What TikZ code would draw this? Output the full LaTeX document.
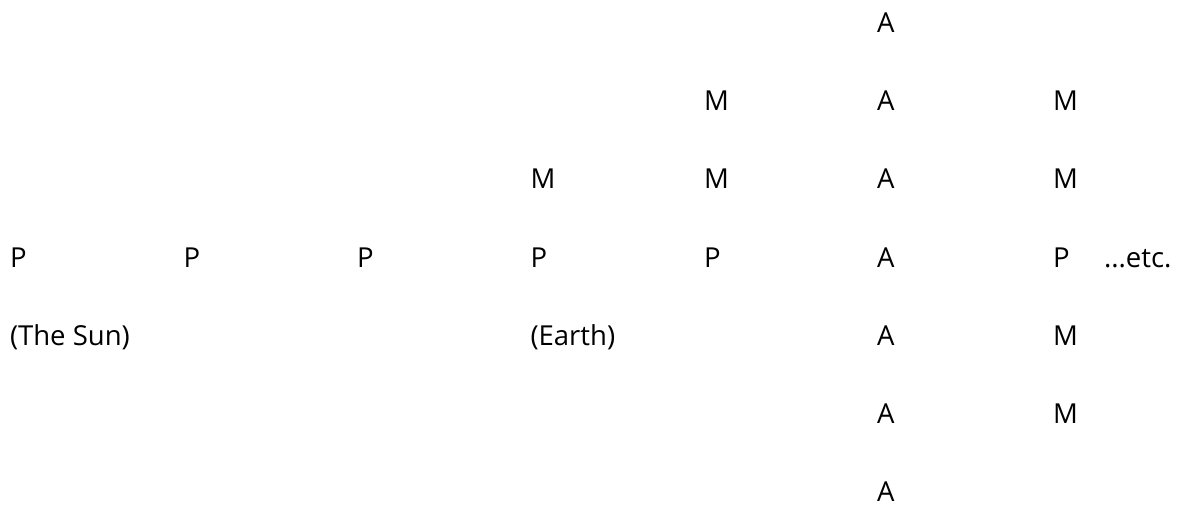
\documentclass[tikz,border=0pt]{standalone}
\usepackage{fontspec}
\setmainfont{Open Sans}
\begin{document}
\begin{tikzpicture}[x=1pt,y=1pt,
  lbl/.style={anchor=base west,inner sep=0pt,outer sep=0pt,font=\fontsize{27.5}{31}\selectfont}]
\useasboundingbox (0,0) rectangle (1186,-505);
% columns
\def\ca{10}\def\cb{183.5}\def\cc{357}\def\cd{530.5}\def\ce{704}\def\cf{877}\def\cg{1053}
% rows (baselines)
\def\ra{-33}\def\rb{-111}\def\rc{-189}\def\rd{-267.5}\def\re{-345.5}\def\rf{-423.5}\def\rg{-501.5}
% row 1
\node[lbl] (a1) at (\cf,\ra) {A};
% row 2
\node[lbl] (m52) at (\ce,\rb) {M};
\node[lbl] (a2) at (\cf,\rb) {A};
\node[lbl] (m72) at (\cg,\rb) {M};
% row 3
\node[lbl] (m43) at (\cd,\rc) {M};
\node[lbl] (m53) at (\ce,\rc) {M};
\node[lbl] (a3) at (\cf,\rc) {A};
\node[lbl] (m73) at (\cg,\rc) {M};
% row 4
\node[lbl] (p1) at (\ca,\rd) {P};
\node[lbl] (p2) at (\cb,\rd) {P};
\node[lbl] (p3) at (\cc,\rd) {P};
\node[lbl] (p4) at (\cd,\rd) {P};
\node[lbl] (p5) at (\ce,\rd) {P};
\node[lbl] (a4) at (\cf,\rd) {A};
\node[lbl] (p7) at (\cg,\rd) {P};
\node[lbl] (etc) at (1104,\rd) {...etc.};
% row 5
\node[lbl] (sun) at (\ca,\re) {(The Sun)};
\node[lbl] (earth) at (\cd,\re) {(Earth)};
\node[lbl] (a5) at (\cf,\re) {A};
\node[lbl] (m75) at (\cg,\re) {M};
% row 6
\node[lbl] (a6) at (\cf,\rf) {A};
\node[lbl] (m76) at (\cg,\rf) {M};
% row 7
\node[lbl] (a7) at (\cf,\rg) {A};
\end{tikzpicture}
\end{document}
